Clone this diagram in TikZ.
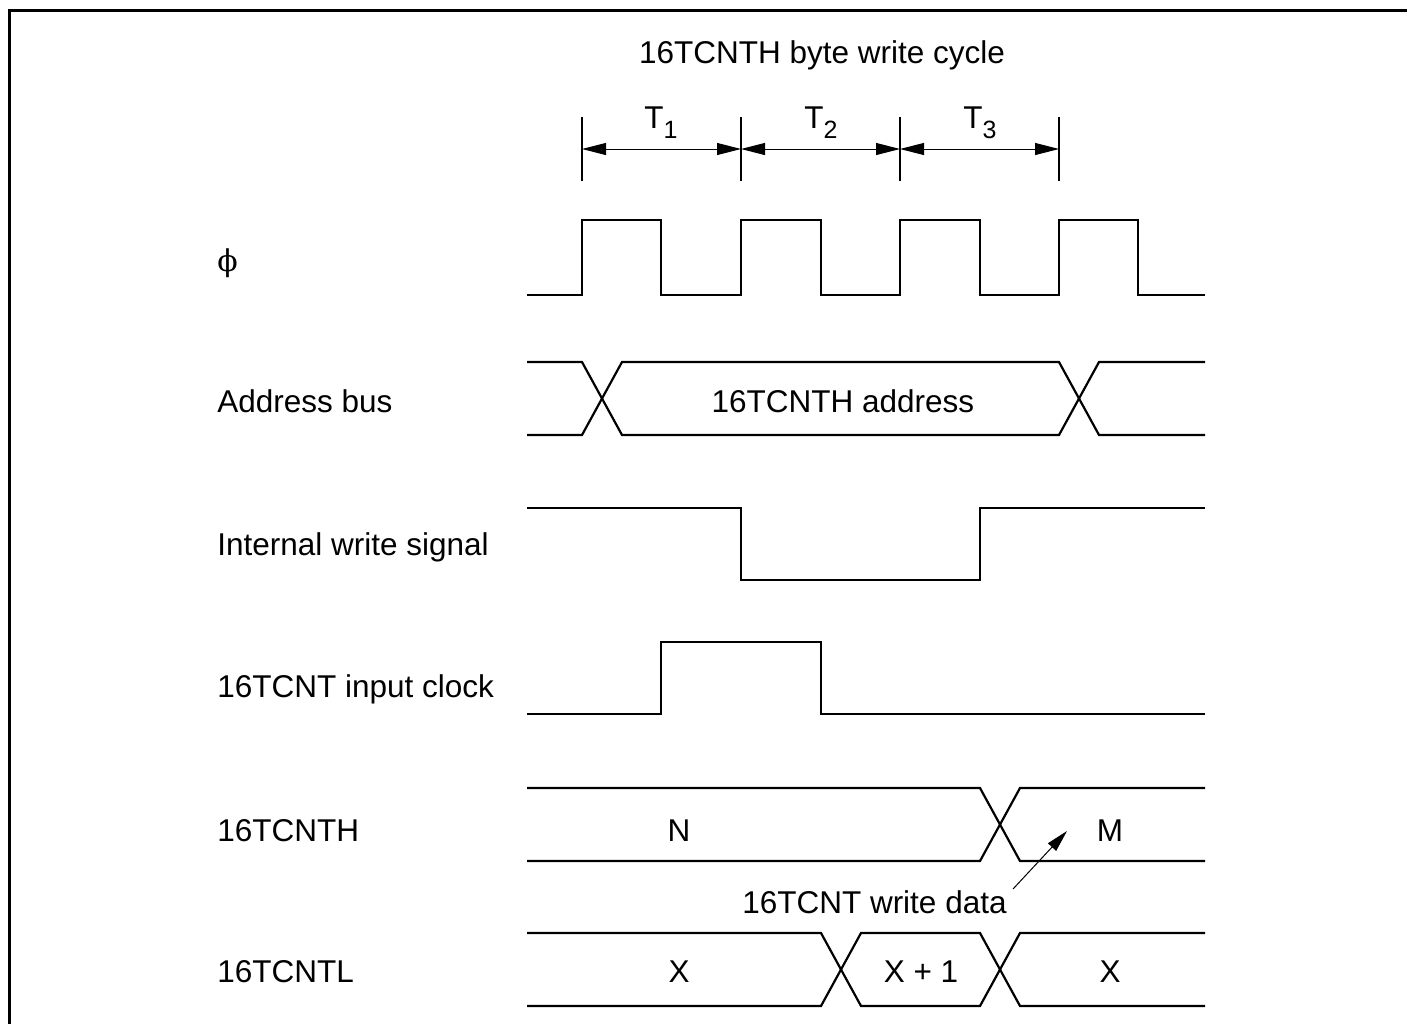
\documentclass[tikz,border=0pt]{standalone}
\usepackage{fontspec}
\setmainfont{Liberation Sans}
\newfontfamily\phifont{DejaVu Serif}
\usetikzlibrary{arrows.meta}
\begin{document}
\begin{tikzpicture}[x=0.5pt,y=-0.5pt,
  sig/.style={line width=1.1pt, line join=miter},
  lbl/.style={anchor=base west, inner sep=0pt, font=\fontsize{15.75}{18}\selectfont},
  txt/.style={anchor=base, inner sep=0pt, font=\fontsize{15.75}{18}\selectfont},
  dimarrow/.style={line width=0.5pt, {Triangle[length=12pt,width=6pt]}-{Triangle[length=12pt,width=6pt]}},
  tickline/.style={line width=0.75pt},
  ptr/.style={line width=0.5pt, -{Triangle[length=11pt,width=5.5pt]}},
  frameline/.style={line width=1.5pt}]
\useasboundingbox (0,0) rectangle (1407,1023);
\draw[frameline] (9.5,1030) -- (9.5,10.5) -- (1410,10.5);

% title and time slots
\node[txt] (title) at (822,63) {16TCNTH byte write cycle};
\node[txt] (t1) at (661,128) {T{\fontsize{12.5}{14}\selectfont\raisebox{-5pt}{1}}};
\node[txt] (t2) at (821,128) {T{\fontsize{12.5}{14}\selectfont\raisebox{-5pt}{2}}};
\node[txt] (t3) at (980,128) {T{\fontsize{12.5}{14}\selectfont\raisebox{-5pt}{3}}};
\coordinate (c0) at (582,149);
\coordinate (c1) at (741,149);
\coordinate (c2) at (900,149);
\coordinate (c3) at (1059,149);
\foreach \c in {c0,c1,c2,c3} \draw[tickline] ([yshift=-16]\c) -- ([yshift=16]\c);
\draw[dimarrow] (c0) -- (c1);
\draw[dimarrow] (c1) -- (c2);
\draw[dimarrow] (c2) -- (c3);

% signal names
\node[lbl, font=\phifont\fontsize{15}{18}\selectfont] (lphi) at (217,271) {ϕ};
\node[lbl] (laddr) at (217,412) {Address bus};
\node[lbl] (lwr) at (217,555) {Internal write signal};
\node[lbl] (lclk) at (217,697) {16TCNT input clock};
\node[lbl] (lh) at (217,841) {16TCNTH};
\node[lbl] (ll) at (217,982) {16TCNTL};

% phi clock
\draw[sig] (527,295) -- (582,295) -- (582,220) -- (661,220) -- (661,295) -- (741,295) -- (741,220) -- (821,220) -- (821,295) -- (900,295) -- (900,220) -- (980,220) -- (980,295) -- (1059,295) -- (1059,220) -- (1138,220) -- (1138,295) -- (1205,295);

% address bus
\draw[sig] (527,362) -- (582,362) -- (622,435) -- (1059,435) -- (1099,362) -- (1205,362);
\draw[sig] (527,435) -- (582,435) -- (622,362) -- (1059,362) -- (1099,435) -- (1205,435);
\node[txt] (addr) at (843,412) {16TCNTH address};

% internal write signal
\draw[sig] (527,508) -- (741,508) -- (741,580) -- (980,580) -- (980,508) -- (1205,508);

% 16TCNT input clock
\draw[sig] (527,714) -- (661,714) -- (661,642) -- (821,642) -- (821,714) -- (1205,714);

% 16TCNTH
\draw[sig] (527,788) -- (980,788) -- (1020,861) -- (1205,861);
\draw[sig] (527,861) -- (980,861) -- (1020,788) -- (1205,788);
\node[txt] (nval) at (679,841) {N};
\node[txt] (mval) at (1110,841) {M};

% write data pointer
\node[txt, anchor=base east] (wd) at (1007,913) {16TCNT write data};
\coordinate (wdtail) at (1013,889);
\coordinate (wdtip) at (1067,831);
\draw[ptr] (wdtail) -- (wdtip);

% 16TCNTL
\draw[sig] (527,933) -- (821,933) -- (861,1006) -- (980,1006) -- (1020,933) -- (1205,933);
\draw[sig] (527,1006) -- (821,1006) -- (861,933) -- (980,933) -- (1020,1006) -- (1205,1006);
\node[txt] (xa) at (679,982) {X};
\node[txt] (xb) at (921,982) {X + 1};
\node[txt] (xc) at (1110,982) {X};
\end{tikzpicture}
\end{document}
